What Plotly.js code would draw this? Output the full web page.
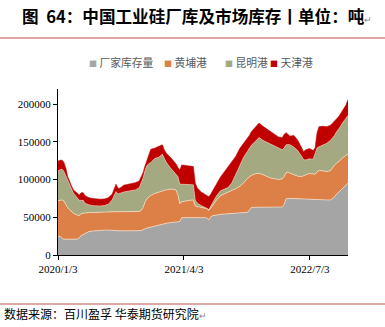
<!DOCTYPE html>
<html><head><meta charset="utf-8">
<script src="https://cdn.plot.ly/plotly-3.0.1.min.js"></script>
<style>html,body{margin:0;padding:0;background:#fff}#c{width:385px;height:327px}</style>
</head><body><div id="c"></div>
<script>
const dates = ['2020-01-03','2020-01-10','2020-01-17','2020-01-24','2020-01-31','2020-02-07','2020-02-14','2020-02-21','2020-02-28','2020-03-06','2020-03-13','2020-03-20','2020-03-27','2020-04-03','2020-04-10','2020-04-17','2020-04-24','2020-05-08','2020-05-22','2020-06-05','2020-06-19','2020-07-03','2020-07-17','2020-07-24','2020-07-31','2020-08-07','2020-08-14','2020-08-28','2020-09-11','2020-09-25','2020-10-09','2020-10-23','2020-10-30','2020-11-06','2020-11-13','2020-11-20','2020-11-27','2020-12-04','2020-12-18','2021-01-01','2021-01-15','2021-01-22','2021-01-29','2021-02-12','2021-02-26','2021-03-05','2021-03-12','2021-03-19','2021-03-26','2021-04-09','2021-04-23','2021-05-07','2021-05-14','2021-05-21','2021-06-04','2021-06-18','2021-06-25','2021-07-02','2021-07-09','2021-07-16','2021-07-30','2021-08-13','2021-08-27','2021-09-10','2021-09-24','2021-10-08','2021-10-22','2021-11-05','2021-11-19','2021-11-26','2021-12-03','2021-12-17','2021-12-31','2022-01-14','2022-01-28','2022-02-11','2022-02-25','2022-03-11','2022-03-25','2022-04-01','2022-04-08','2022-04-15','2022-04-22','2022-05-06','2022-05-20','2022-06-03','2022-06-10','2022-06-17','2022-07-01','2022-07-15','2022-07-22','2022-07-29','2022-08-05','2022-08-19','2022-09-02','2022-09-16','2022-09-23','2022-09-30','2022-10-07','2022-10-14','2022-10-21','2022-10-28','2022-11-04','2022-11-11','2022-11-18'];

const factory = [24000,25000,22500,21000,21000,21000,21000,21000,21000,21000,21000,22500,26000,27000,28500,30000,31000,31800,32500,33000,33000,33000,32500,32000,32000,32000,32000,32000,32000,32000,32000,32000,32300,33500,35000,35800,36300,37000,38500,39600,40800,41300,42000,42900,43500,43800,44100,44300,49500,49700,49700,49700,49600,49600,49500,49500,49000,46500,50500,52200,53300,53800,54300,54700,55100,55400,56000,56300,56500,59500,63000,63300,63500,63500,63500,63500,63500,63500,63600,67000,74500,75000,75000,74800,74500,74200,74000,73800,73600,73400,73200,73000,73000,73000,73000,73000,74500,77000,80500,82500,84500,87500,90500,93000,95100];

const huangpu = [48000,47500,50500,50500,46000,42000,39000,36500,34300,33000,31500,29500,29000,28500,27500,26000,25200,24400,23700,23200,23200,23500,24700,25300,25500,25500,25500,25500,25500,25500,25500,25800,26700,29500,35000,38700,40700,42000,43000,43100,44000,44500,44500,44300,43500,42200,35900,23700,21000,22300,22800,23300,15400,14600,14000,13300,12500,12500,11500,13300,19700,24700,26700,28300,30200,32600,35000,39200,45000,44000,42500,44200,44900,43000,40500,38500,37500,36500,37400,37000,34500,35000,33500,31700,30000,29800,30500,32200,34400,33600,33800,37000,39000,38500,37500,39000,41500,42000,41000,40500,41000,41000,40000,39500,38900];

const kunming = [39500,40500,41000,39500,38000,35000,32000,29500,26700,25000,23000,20500,17500,17000,12600,11500,10300,9200,8800,8800,9300,10800,15800,20700,26500,23500,24500,26000,27000,28000,28800,31200,36000,39000,42000,44000,44000,43500,46500,46800,48800,41200,36500,28800,23000,22000,24000,26000,23300,21500,20800,20000,8000,4800,2000,700,500,1200,3000,4500,5500,6500,6500,6500,10700,19000,29000,34000,36000,37500,40000,43000,47200,45500,45500,44900,43000,41500,38500,38000,37000,36500,37500,36500,34000,27000,22000,20000,19500,20000,27000,32000,31500,34000,37500,40000,39000,39500,41500,43000,44500,46000,47500,49000,50900];

const tianjin = [13000,12500,12000,12000,10500,6000,5000,4500,4300,5000,5500,7100,10000,10000,9900,9500,9500,9400,8900,8900,8700,8500,7500,8000,9800,7500,6500,9000,9000,9000,9500,9000,7600,7000,6000,6500,10000,17500,13600,13800,12400,12000,12000,14000,14000,13000,12000,18800,25600,25000,24700,24200,22000,20000,18000,16500,16500,17000,15500,15500,15500,18000,22500,26500,27000,24000,21000,18000,16500,17500,18000,19000,19200,18500,17500,16100,15000,15000,16000,18000,16000,13500,11500,15500,13500,11000,10500,13000,13500,11500,8000,20000,26500,25000,22000,20000,19500,19000,17500,17000,16500,16500,17000,17500,21100];

const seriesNames = ['厂家库存量','黄埔港','昆明港','天津港'];
const seriesColors = ['#A5A5A5','#DD8047','#A5A981','#C00000'];
const seriesData = [factory, huangpu, kunming, tianjin];

const tickVals = ['2020-01-03','2021-04-03','2022-07-03'];
const tickText = ['2020/1/3','2021/4/3','2022/7/3'];
const yTicks = [0,50000,100000,150000,200000];

const traces = seriesData.map((vals, i) => ({
  type: 'scatter', x: dates, y: vals, name: seriesNames[i],
  stackgroup: 'one', mode: 'lines', fillcolor: seriesColors[i],
  line: {width: i < 2 ? 0.8 : 0.6, color: i < 3 ? 'rgba(255,235,215,0.75)' : seriesColors[i]}, hoverinfo: 'skip'
}));

const legendX = [0.10, 0.36, 0.57, 0.723];
const legendAnn = seriesNames.map((n, i) => ({
  xref: 'paper', yref: 'paper', x: legendX[i], y: 1.164,
  xanchor: 'left', yanchor: 'middle', showarrow: false,
  text: '<span style="color:' + seriesColors[i] + ';font-size:8px">■</span> ' + n,
  font: {family: 'Noto Sans CJK SC', size: 10.8, color: '#595959'}
}));

const layout = {
  width: 385, height: 327,
  margin: {l: 58, r: 37, t: 89, b: 72, pad: 0},
  paper_bgcolor: '#fff', plot_bgcolor: '#fff',
  showlegend: false,
  title: {
    text: '<b>图&nbsp;&nbsp;64：中国工业硅厂库及市场库存丨单位：吨</b><span style="font-size:9px;color:#888">↵</span>',
    font: {family: 'Noto Sans CJK SC', size: 16.6, color: '#000'},
    x: 22/385, xanchor: 'left', xref: 'container', yref: 'container', y: 1 - 17/327, yanchor: 'middle'
  },
  xaxis: {
    type: 'date', range: ['2020-01-03', '2022-11-18'],
    tickmode: 'array', tickvals: tickVals, ticktext: tickText,
    ticks: 'outside', ticklen: 4, tickcolor: '#000', showgrid: false, zeroline: false,
    showline: true, linecolor: '#000', linewidth: 1,
    tickfont: {family: 'Liberation Serif', size: 11, color: '#000'}
  },
  yaxis: {
    range: [0, 220000], tickmode: 'array', tickvals: yTicks,
    ticktext: yTicks.map(String),
    ticks: 'outside', ticklen: 4, tickcolor: '#000', showgrid: false, zeroline: false,
    showline: true, linecolor: '#000', linewidth: 1,
    tickfont: {family: 'Liberation Serif', size: 11, color: '#000'}
  },
  shapes: [
    {type: 'line', xref: 'paper', yref: 'paper', x0: -0.2, x1: 1.128, y0: (255-38)/166, y1: (255-38)/166, line: {color: '#C0504D', width: 1}},
    {type: 'line', xref: 'paper', yref: 'paper', x0: -0.2, x1: 1.128, y0: (255-304)/166, y1: (255-304)/166, line: {color: '#C0504D', width: 1}}
  ],
  annotations: legendAnn.concat([{
    xref: 'paper', yref: 'paper', x: (2-58)/290, y: (255-313)/166,
    xanchor: 'left', yanchor: 'middle', showarrow: false,
    text: '数据来源：百川盈孚 华泰期货研究院<span style="font-size:9px;color:#888">↵</span>',
    font: {family: 'Noto Sans CJK SC', size: 12, color: '#000'}
  }])
};

Plotly.newPlot('c', traces, layout, {staticPlot: true, displayModeBar: false});
</script></body></html>
